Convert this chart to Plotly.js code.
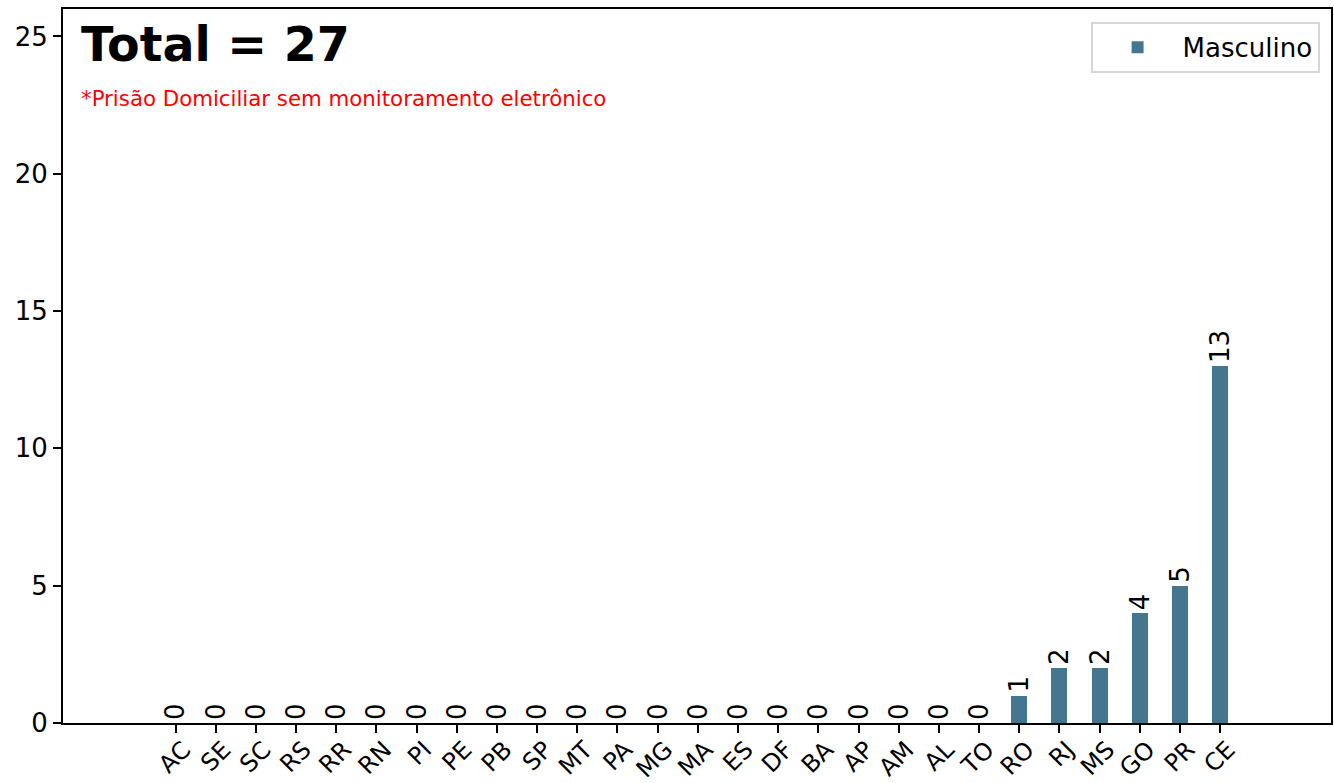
<!DOCTYPE html>
<html>
<head>
<meta charset="utf-8">
<script src="https://cdn.plot.ly/plotly-3.0.1.min.js"></script>
<style>html,body{margin:0;padding:0;background:#fff;}#chart{width:1334px;height:783px;}</style>
</head>
<body>
<div id="chart"></div>
<script>
const estados = ["AC","SE","SC","RS","RR","RN","PI","PE","PB","SP","MT","PA","MG","MA","ES","DF","BA","AP","AM","AL","TO","RO","RJ","MS","GO","PR","CE"];
const masculino = [0,0,0,0,0,0,0,0,0,0,0,0,0,0,0,0,0,0,0,0,0,1,2,2,4,5,13];
const totalText = "Total = 27";
const subtitulo = "*Prisão Domiciliar sem monitoramento eletrônico";
const yTicks = [0,5,10,15,20,25];

const font = "DejaVu Sans, sans-serif";
const trace = {
  type: "bar",
  x: estados.map((_, i) => i),
  y: masculino,
  name: "Masculino",
  width: 0.4,
  marker: {color: "#45768f"},
  text: masculino.map(String),
  textposition: "outside",
  textangle: -90,
  constraintext: "none",
  cliponaxis: false,
  textfont: {family: font, size: 26, color: "#000"},
  hoverinfo: "x+y"
};

const layout = {
  width: 1334, height: 783,
  margin: {l: 63, r: 3, t: 9, b: 60},
  paper_bgcolor: "#fff", plot_bgcolor: "#fff",
  font: {family: font, size: 26, color: "#000"},
  bargap: 0,
  showlegend: true,
  legend: {
    x: 0.991, y: 0.982, xanchor: "right", yanchor: "top",
    bordercolor: "#d6d6d6", borderwidth: 2, bgcolor: "rgba(255,255,255,0.8)",
    itemwidth: 80,
    font: {family: font, size: 26, color: "#000"}
  },
  xaxis: {
    range: [-2.8, 28.76],
    tickmode: "array",
    tickvals: estados.map((_, i) => i),
    ticktext: estados,
    tickangle: -45,
    ticks: "outside", ticklen: 8, tickwidth: 2, tickcolor: "#000",
    ticklabelstandoff: -7,
    ticklabelshift: 8,
    showline: true, linecolor: "#000", linewidth: 2, mirror: true,
    showgrid: false, zeroline: false,
    tickfont: {family: font, size: 24, color: "#000"}
  },
  yaxis: {
    range: [0, 26],
    tickmode: "array",
    tickvals: yTicks,
    ticks: "outside", ticklen: 8, tickwidth: 2, tickcolor: "#000",
    showline: true, linecolor: "#000", linewidth: 2, mirror: true,
    showgrid: false, zeroline: false,
    tickfont: {family: font, size: 26, color: "#000"}
  },
  annotations: [
    {text: "<b>" + totalText + "</b>", xref: "paper", yref: "paper", x: 0.0125, y: 0.992,
     xanchor: "left", yanchor: "top", showarrow: false,
     font: {family: font, size: 47.5, color: "#000"}},
    {text: subtitulo, xref: "paper", yref: "paper", x: 0.0125, y: 0.895,
     xanchor: "left", yanchor: "top", showarrow: false,
     font: {family: font, size: 21.3, color: "#ff0000"}}
  ]
};

Plotly.newPlot("chart", [trace], layout, {displayModeBar: false, staticPlot: true});
</script>
</body>
</html>
